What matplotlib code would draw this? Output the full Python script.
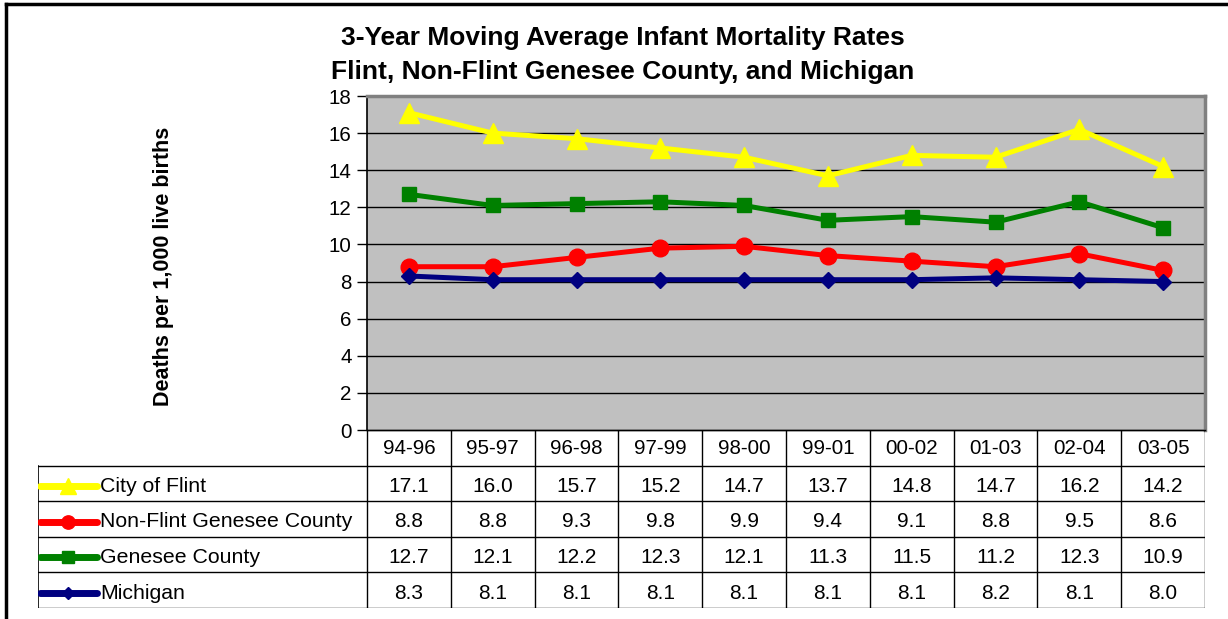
import matplotlib
matplotlib.use('Agg')
import matplotlib.pyplot as plt
from matplotlib.lines import Line2D

plt.rcParams['font.family'] = ['Liberation Sans', 'DejaVu Sans']

periods = ['94-96', '95-97', '96-98', '97-99', '98-00', '99-01', '00-02', '01-03', '02-04', '03-05']
series_names = ['City of Flint', 'Non-Flint Genesee County', 'Genesee County', 'Michigan']
flint = [17.1, 16.0, 15.7, 15.2, 14.7, 13.7, 14.8, 14.7, 16.2, 14.2]
non_flint = [8.8, 8.8, 9.3, 9.8, 9.9, 9.4, 9.1, 8.8, 9.5, 8.6]
genesee = [12.7, 12.1, 12.2, 12.3, 12.1, 11.3, 11.5, 11.2, 12.3, 10.9]
michigan = [8.3, 8.1, 8.1, 8.1, 8.1, 8.1, 8.1, 8.2, 8.1, 8.0]
yticks = [0, 2, 4, 6, 8, 10, 12, 14, 16, 18]

all_series = [flint, non_flint, genesee, michigan]
colors = ['#FFFF00', '#FF0000', '#008000', '#000080']
markers = ['^', 'o', 's', 'D']
msizes = [14, 12, 10, 8]

W, H = 1228, 619
fig = plt.figure(figsize=(W / 100, H / 100), dpi=100)


def px_rect(x0, y0, x1, y1):
    return [x0 / W, 1 - y1 / H, (x1 - x0) / W, (y1 - y0) / H]


# outer frame (top and left only visible)
fig.add_artist(Line2D([6 / W, 1], [1 - 4 / H, 1 - 4 / H], color='black', lw=2.5))
fig.add_artist(Line2D([6 / W, 6 / W], [1 - 4 / H, 0], color='black', lw=2.5))

# plot area
ax = fig.add_axes(px_rect(367, 96, 1205, 430))
ax.set_facecolor('#C0C0C0')
xs = [i + 0.5 for i in range(len(periods))]
for vals, c, m, ms in zip(all_series, colors, markers, msizes):
    ax.plot(xs, vals, color=c, lw=3.6, marker=m, markersize=ms, zorder=3)
ax.set_xlim(0, len(periods))
ax.set_ylim(0, 18)
ax.set_yticks(yticks)
ax.set_xticks([])
ax.yaxis.grid(True, color='black', lw=1)
ax.set_axisbelow(True)
ax.tick_params(axis='y', labelsize=14.8, length=7, width=1, pad=4)
for s in ['top', 'right']:
    ax.spines[s].set_color('#808080')
    ax.spines[s].set_linewidth(2.5)
ax.spines['left'].set_linewidth(1.2)
ax.spines['bottom'].set_linewidth(1)
ax.set_ylabel('Deaths per 1,000 live births', fontsize=15.5, fontweight='bold')
ax.yaxis.set_label_coords(-0.23, 0.49)

# data table
tx = fig.add_axes(px_rect(38, 430, 1205, 608))
left = -(367 - 38) / 83.8
tx.set_xlim(left, len(periods))
tx.set_ylim(5, 0)
tx.axis('off')
n = len(periods)
lc = '#000000'
# horizontal lines
tx.plot([0, n], [0, 0], color=lc, lw=1)
for r in range(1, 6):
    tx.plot([left, n], [r, r], color=lc, lw=1)
# vertical lines
tx.plot([left, left], [1, 5], color=lc, lw=1.2)
for cidx in range(n + 1):
    tx.plot([cidx, cidx], [0, 5], color=lc, lw=1)
for i, p in enumerate(periods):
    tx.text(i + 0.5, 0.52, p, ha='center', va='center', fontsize=14.8)
for r, (name, vals, c, m, ms) in enumerate(zip(series_names, all_series, colors, markers, msizes)):
    y = r + 1.58
    tx.plot([left + 0.02, left + 0.7], [y, y], color=c, lw=5, solid_capstyle='round')
    tx.plot([left + 0.36], [y], color=c, marker=m, markersize=ms * 0.8)
    tx.text(left + 0.74, y, name, ha='left', va='center', fontsize=15.3)
    for i, v in enumerate(vals):
        tx.text(i + 0.5, y, f'{v:.1f}', ha='center', va='center', fontsize=15)

fig.text(623 / W, 1 - 38 / H, '3-Year Moving Average Infant Mortality Rates',
         ha='center', va='center', fontsize=19, fontweight='bold')
fig.text(623 / W, 1 - 72 / H, 'Flint, Non-Flint Genesee County, and Michigan',
         ha='center', va='center', fontsize=19, fontweight='bold')

fig.savefig('out.png', dpi=100)
